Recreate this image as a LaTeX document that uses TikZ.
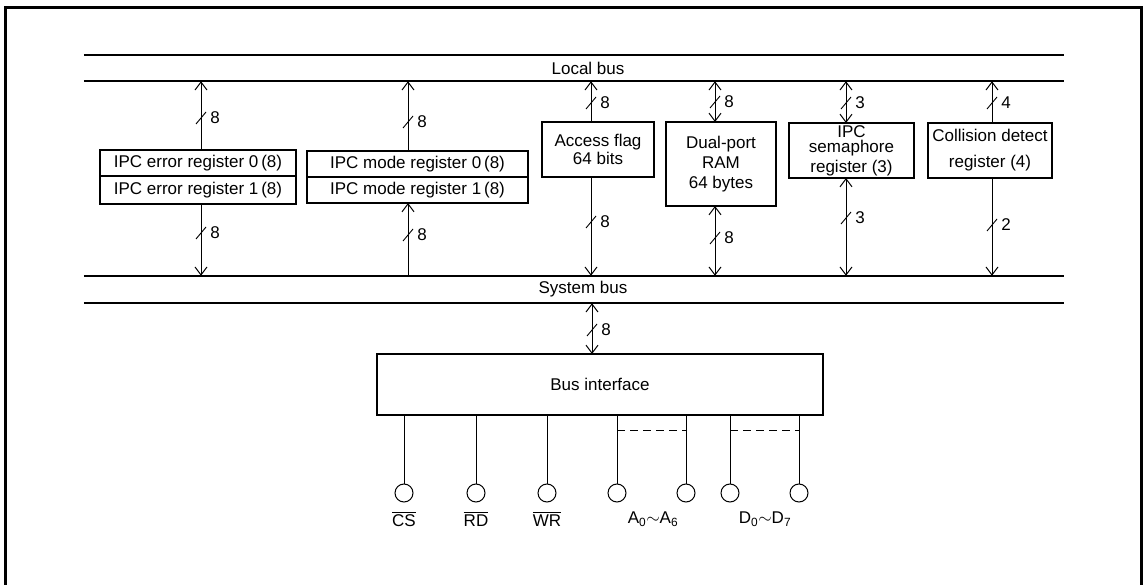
\documentclass[tikz,border=0pt]{standalone}
\usepackage{fontspec}
\setmainfont{Liberation Sans}
\usetikzlibrary{arrows.meta,positioning}
\tikzset{
  reg/.style={draw=black, line width=2.2pt, inner sep=0pt, outer sep=0pt, align=center, font=\fontsize{17}{20}\selectfont},
  txt/.style={inner sep=0pt, font=\fontsize{17}{20}\selectfont},
  busbar/.style={minimum width=980pt, inner sep=0pt},
  busline/.style={line width=1.6pt},
  conn/.style={line width=1pt},
  arrow/.style={conn, -{Straight Barb[length=8pt,width=12pt]}},
  dblarrow/.style={conn, {Straight Barb[length=8pt,width=12pt]}-{Straight Barb[length=8pt,width=12pt]}},
  widthslash/.style={line width=0.9pt},
  pincircle/.style={circle, draw=black, line width=1pt, minimum size=18pt, inner sep=0pt}
}
\newcommand{\widthmark}[3]{%
  \draw[widthslash] (#1-5,#2+6) -- (#1+5,#2-6);
  \node[txt] at (#1+14,#2) {#3};}
\newcommand{\negsig}[1]{\vbox{\hrule height 1.1pt\kern 1.8pt\hbox{#1}}}

\begin{document}
\begin{tikzpicture}[x=1pt,y=-1pt]
\useasboundingbox (0,0) rectangle (1148,585);
\draw[line width=3pt] (5.5,585) -- (5.5,7.5) -- (1141.5,7.5) -- (1141.5,585);

% buses
\node[busbar, minimum height=26pt] (lbus) at (574,68) {};
\node[busbar, minimum height=27pt] (sbus) at (574,289.5) {};
\draw[busline] (lbus.north west) -- (lbus.north east);
\draw[busline] (lbus.south west) -- (lbus.south east);
\draw[busline] (sbus.north west) -- (sbus.north east);
\draw[busline] (sbus.south west) -- (sbus.south east);
\node[txt] (lbusname) at (588,68) {Local bus};
\node[txt] (sbusname) at (583,289) {System bus};

% registers
\node[reg, minimum width=196pt, minimum height=26pt] (err0) at (198,163) {IPC error register 0\,(8)};
\node[reg, minimum width=196pt, minimum height=28pt, below=0pt of err0] (err1) {IPC error register 1\,(8)};
\node[reg, minimum width=221pt, minimum height=26pt] (mode0) at (417.5,164) {IPC mode register 0\,(8)};
\node[reg, minimum width=221pt, minimum height=26pt, below=0pt of mode0] (mode1) {IPC mode register 1\,(8)};
\node[reg, minimum width=112pt, minimum height=55pt] (acc) at (598,149.5) {Access flag\\[-2pt]64 bits};
\node[reg, minimum width=110pt, minimum height=84pt] (ram) at (721,164) {Dual-port\\RAM\\64 bytes};
\node[reg, minimum width=125pt, minimum height=55pt] (sem) at (851.5,150.5) {IPC\\[-5pt]semaphore\\register (3)};
\node[reg, minimum width=124pt, minimum height=55pt] (col) at (990,150.5) {Collision detect\\[6pt]register (4)};
\node[reg, minimum width=446pt, minimum height=61pt] (bif) at (600,384.5) {Bus interface};

% connector columns
\coordinate (xerr) at (201,0);
\coordinate (xmode) at (408,0);
\coordinate (xacc) at (591,0);
\coordinate (xram) at (715,0);
\coordinate (xsem) at (846,0);
\coordinate (xcol) at (992,0);
\coordinate (xbif) at (592,0);

\draw[arrow] (xerr |- err0.north) -- (xerr |- lbus.south);
\draw[arrow] (xerr |- err1.south) -- (xerr |- sbus.north);
\draw[arrow] (xmode |- mode0.north) -- (xmode |- lbus.south);
\draw[arrow] (xmode |- sbus.north) -- (xmode |- mode1.south);
\draw[arrow] (xacc |- acc.north) -- (xacc |- lbus.south);
\draw[arrow] (xacc |- acc.south) -- (xacc |- sbus.north);
\draw[dblarrow] (xram |- lbus.south) -- (xram |- ram.north);
\draw[dblarrow] (xram |- ram.south) -- (xram |- sbus.north);
\draw[dblarrow] (xsem |- lbus.south) -- (xsem |- sem.north);
\draw[dblarrow] (xsem |- sem.south) -- (xsem |- sbus.north);
\draw[arrow] (xcol |- col.north) -- (xcol |- lbus.south);
\draw[arrow] (xcol |- col.south) -- (xcol |- sbus.north);
\draw[dblarrow] (xbif |- sbus.south) -- (xbif |- bif.north);

% bus widths
\widthmark{201}{118}{8}
\widthmark{201}{233}{8}
\widthmark{408}{122}{8}
\widthmark{408}{235}{8}
\widthmark{591}{103}{8}
\widthmark{591}{222}{8}
\widthmark{715}{102}{8}
\widthmark{715}{238}{8}
\widthmark{846}{103}{3}
\widthmark{846}{218}{3}
\widthmark{992}{103}{4}
\widthmark{992}{225}{2}
\widthmark{592}{330}{8}

% pins
\node[pincircle] (pcs) at (404,493) {};
\node[pincircle] (prd) at (476,493) {};
\node[pincircle] (pwr) at (547,493) {};
\node[pincircle] (pa0) at (617,493) {};
\node[pincircle] (pa6) at (686,493) {};
\node[pincircle] (pd0) at (730,493) {};
\node[pincircle] (pd7) at (799,493) {};
\draw[conn] (pcs |- bif.south) -- (pcs);
\draw[conn] (prd |- bif.south) -- (prd);
\draw[conn] (pwr |- bif.south) -- (pwr);
\draw[conn] (pa0 |- bif.south) -- (pa0);
\draw[conn] (pa6 |- bif.south) -- (pa6);
\draw[conn] (pd0 |- bif.south) -- (pd0);
\draw[conn] (pd7 |- bif.south) -- (pd7);
\coordinate (dash) at (0,430);
\draw[conn, dash pattern=on 8pt off 5pt] (pa0 |- dash) -- (pa6 |- dash);
\draw[conn, dash pattern=on 8pt off 5pt] (pd0 |- dash) -- (pd7 |- dash);

\node[txt] (lcs) at (404,519) {\negsig{CS}};
\node[txt] (lrd) at (476,519) {\negsig{RD}};
\node[txt] (lwr) at (547,519) {\negsig{WR}};
\node[txt] (la) at (653,519) {A\textsubscript{0}$\sim$A\textsubscript{6}};
\node[txt] (ld) at (765,519) {D\textsubscript{0}$\sim$D\textsubscript{7}};
\end{tikzpicture}
\end{document}
